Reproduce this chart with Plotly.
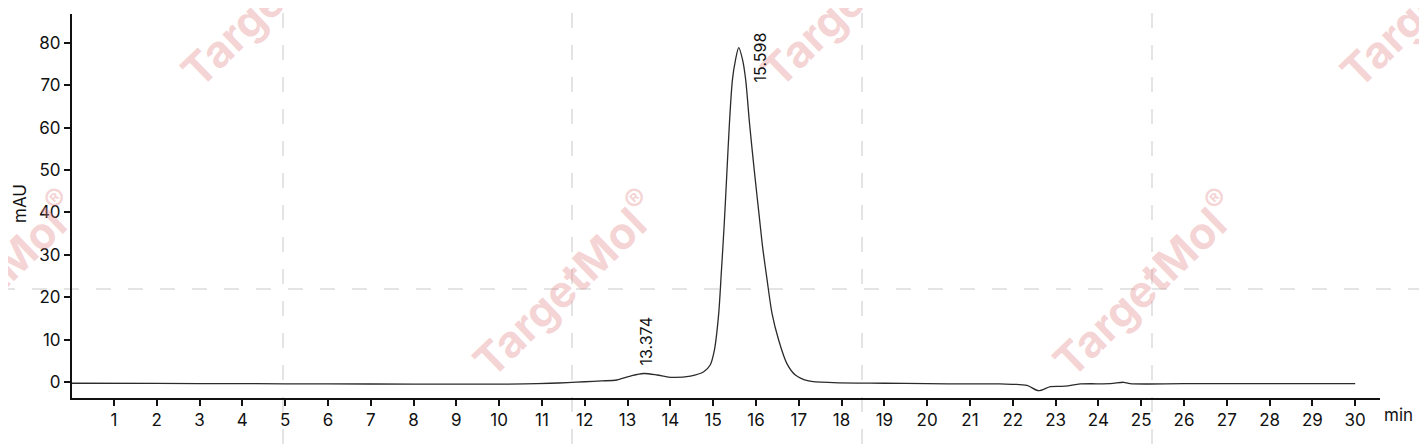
import plotly.graph_objects as go

# chromatogram (retention time in min, signal in mAU)
time_min = [
    0.0, 2.0, 4.0, 6.0, 8.0, 10.0, 10.6, 11.2, 11.6, 12.0, 12.4, 12.75,
    13.07, 13.374, 13.69, 14.0, 14.47, 14.78, 14.93, 15.03, 15.13, 15.19,
    15.26, 15.32, 15.38, 15.45, 15.52, 15.598, 15.69, 15.76, 15.85, 15.96,
    16.08, 16.155, 16.26, 16.375, 16.53, 16.72, 16.92, 17.23, 17.81, 19.0, 20.0,
    21.0, 21.7, 22.33, 22.60, 22.88, 23.23, 23.58, 24.28, 24.59, 24.74,
    26.0, 28.0, 30.0,
]
signal_mau = [
    -0.3, -0.35, -0.4, -0.45, -0.5, -0.5, -0.45, -0.3, -0.15, 0.05, 0.25, 0.47,
    1.4, 2.0, 1.65, 1.1, 1.4, 2.4, 4.0, 7.6, 16.2, 25.7,
    37.5, 49.3, 61.0, 71.3, 75.9, 78.9, 75.9, 71.3, 61.0, 50.0,
    38.8, 31.9, 24.1, 16.2, 9.9, 4.4, 1.65, 0.24, -0.15, -0.3, -0.4,
    -0.45, -0.47, -0.8, -2.05, -1.1, -1.0, -0.47, -0.4, -0.07, -0.4,
    -0.4, -0.4, -0.4,
]

peak_times = [13.374, 15.598]
peak_heights = [2.0, 78.9]
peak_labels = ["13.374", "15.598"]

x_ticks = list(range(1, 31))
y_ticks = [0, 10, 20, 30, 40, 50, 60, 70, 80]

FONT = "Inter"
PAGE_OFFSET = 8  # the html body margin shifts the figure by this much
W, H = 1427 - PAGE_OFFSET, 444 - PAGE_OFFSET
L, R, T, B = 64, 47, 6, 46


def px_to_paper(px, py):
    """Screen pixel -> paper coords, used for the watermark decoration only."""
    fx, fy = px - PAGE_OFFSET, py - PAGE_OFFSET
    return (fx - L) / (W - L - R), (H - B - fy) / (H - T - B)


fig = go.Figure()

# watermark: dashed tile grid plus rotated logo text
grid_line = dict(color="#e4e4e4", width=2, dash="15px,17px")
_, y_top = px_to_paper(0, 0)
_, y_bot = px_to_paper(0, 444)
x_left, _ = px_to_paper(0, 0)
x_right, _ = px_to_paper(1427, 0)
for vx in [283, 572, 862, 1152]:
    x0, _ = px_to_paper(vx, 0)
    fig.add_shape(type="line", xref="paper", yref="paper", x0=x0, x1=x0,
                  y0=y_bot, y1=y_top, layer="below", line=grid_line)
for hy in [1, 289]:
    _, y0 = px_to_paper(0, hy)
    fig.add_shape(type="line", xref="paper", yref="paper", x0=x_left, x1=x_right,
                  y0=y0, y1=y0, layer="below", line=grid_line)

for cx, cy in [(272, -7), (852, -7), (1432, -7), (-16, 283), (564, 283), (1144, 283)]:
    wx, wy = px_to_paper(cx, cy)
    fig.add_annotation(
        x=wx, y=wy, xref="paper", yref="paper", showarrow=False,
        text="TargetMol<sup>®</sup>", textangle=-44,
        font=dict(family=FONT, size=44, color="rgba(225,130,130,0.34)", weight="bold"),
        xanchor="center", yanchor="middle",
    )

fig.add_trace(
    go.Scatter(
        x=time_min,
        y=signal_mau,
        mode="lines",
        line=dict(color="#2b2b2b", width=1.3, shape="spline", smoothing=0.8),
        hoverinfo="x+y",
        showlegend=False,
    )
)

# retention-time labels
fig.add_annotation(x=peak_times[0], y=peak_heights[0], text=peak_labels[0],
                   textangle=-90, showarrow=False, xanchor="center", yanchor="bottom",
                   xshift=2, yshift=6, font=dict(family=FONT, size=16, color="#111"))
fig.add_annotation(x=peak_times[1], y=peak_heights[1], text=peak_labels[1],
                   textangle=-90, showarrow=False, xanchor="left", yanchor="top",
                   xshift=9, yshift=17, font=dict(family=FONT, size=16, color="#111"))

mx, my = px_to_paper(20, 204)
fig.add_annotation(x=mx, y=my, xref="paper", yref="paper", text="mAU", textangle=-90,
                   showarrow=False, xanchor="center", yanchor="middle",
                   font=dict(family=FONT, size=17, color="#111"))
nx, ny = px_to_paper(1398, 415)
fig.add_annotation(x=nx, y=ny, xref="paper", yref="paper", text="min",
                   showarrow=False, xanchor="center", yanchor="middle",
                   font=dict(family=FONT, size=17, color="#111"))

fig.update_layout(
    width=W,
    height=H,
    margin=dict(l=L, r=R, t=T, b=B),
    plot_bgcolor="white",
    paper_bgcolor="white",
    font=dict(family=FONT, size=17, color="#111"),
    showlegend=False,
)
fig.update_xaxes(
    range=[0.02, 30.58],
    tickvals=x_ticks,
    ticks="outside", ticklen=6, tickwidth=1.5, tickcolor="#111",
    showline=True, linecolor="#111", linewidth=2,
    showgrid=False, zeroline=False,
)
fig.update_yaxes(
    range=[-3.78, 86.84],
    tickvals=y_ticks,
    ticks="outside", ticklen=6, tickwidth=1.5, tickcolor="#111",
    showline=True, linecolor="#111", linewidth=2,
    showgrid=False, zeroline=False,
)

fig.write_html("out.html")
